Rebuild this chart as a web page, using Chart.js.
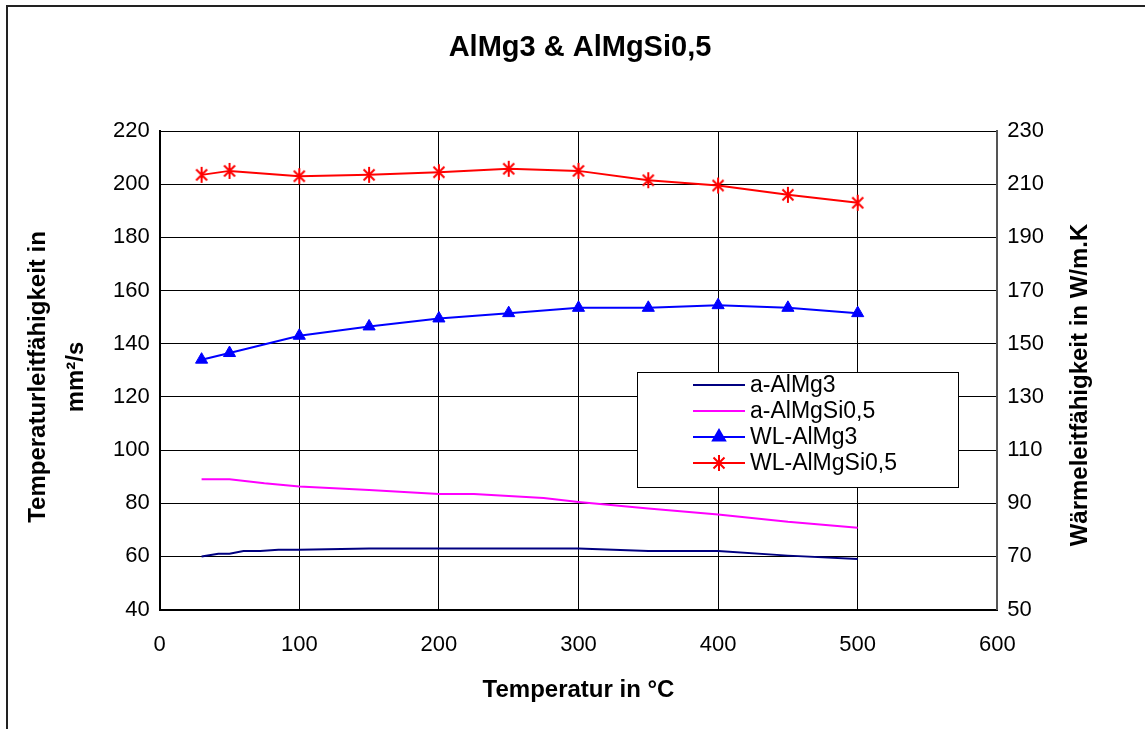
<!DOCTYPE html>
<html>
<head>
<meta charset="utf-8">
<script src="https://cdn.jsdelivr.net/npm/chart.js@4/dist/chart.umd.min.js"></script>
<style>
    html, body { margin: 0; padding: 0; background: #fff; overflow: hidden; }
    #frame { position: absolute; left: 6px; top: 5px; width: 1300px; height: 900px; border: 2px solid #222; }
    #wrap { position: absolute; left: 0; top: 0; width: 1145px; height: 729px; }
</style>
</head>
<body>
<div id="frame"></div>
<div id="wrap"><canvas id="alChart" width="1145" height="729"></canvas></div>
<script>
// Temperature points (°C) for each measured series
const tempAAlMg3 = [30, 42, 50, 60, 72, 85, 100, 150, 200, 250, 300, 350, 400, 450, 500]
const aAlMg3 = [60, 61, 61, 62, 62, 62.5, 62.5, 63, 63, 63, 63, 62, 62, 60.3, 59]

const tempAAlMgSi = [30, 50, 75, 100, 150, 200, 225, 275, 300, 350, 400, 450, 500]
const aAlMgSi = [89, 89, 87.5, 86.3, 85, 83.5, 83.5, 82, 80.5, 78, 75.8, 73, 70.8]

const tempWL = [30, 50, 100, 150, 200, 250, 300, 350, 400, 450, 500]
const wlAlMg3 = [144, 146.5, 153, 156.5, 159.5, 161.5, 163.5, 163.5, 164.5, 163.5, 161.5]
const wlAlMgSi = [213.5, 215, 213, 213.5, 214.5, 215.8, 215, 211.5, 209.5, 206, 203]

const chartTitle = 'AlMg3 & AlMgSi0,5'
const xTitle = 'Temperatur in °C'
const yLeftTitle = ['Temperaturleitfähigkeit in', 'mm²/s']
const yRightTitle = 'Wärmeleitfähigkeit in W/m.K'

const fontFamily = '"Liberation Sans", Arial, sans-serif'

function toPoints(xs, ys) {
    return xs.map((x, i) => ({ x: x, y: ys[i] }))
}

// Excel-like asterisk marker (X plus vertical bar)
function makeStar() {
    const c = document.createElement('canvas')
    c.width = 18
    c.height = 18
    const g = c.getContext('2d')
    g.strokeStyle = '#ff0000'
    g.lineWidth = 2
    g.beginPath()
    g.moveTo(9, 1); g.lineTo(9, 17)
    g.moveTo(3.5, 3.5); g.lineTo(14.5, 14.5)
    g.moveTo(14.5, 3.5); g.lineTo(3.5, 14.5)
    g.stroke()
    return c
}
const starMarker = makeStar()

// Draws title, axis titles and the legend box inside the plot
const decorPlugin = {
    id: 'decor',
    afterDraw: function(chart) {
        const ctx = chart.ctx
        const area = chart.chartArea
        ctx.save()
        ctx.fillStyle = '#000'
        ctx.textAlign = 'center'
        ctx.textBaseline = 'middle'

        ctx.font = 'bold 29px ' + fontFamily
        ctx.fillText(chartTitle, 580, 48)

        ctx.font = 'bold 24px ' + fontFamily
        ctx.fillText(xTitle, (area.left + area.right) / 2, 690)

        ctx.save()
        ctx.translate(38, 377)
        ctx.rotate(-Math.PI / 2)
        ctx.fillText(yLeftTitle[0], 0, 0)
        ctx.restore()
        ctx.save()
        ctx.translate(76, 377)
        ctx.rotate(-Math.PI / 2)
        ctx.fillText(yLeftTitle[1], 0, 0)
        ctx.restore()

        ctx.save()
        ctx.translate(1080, 385)
        ctx.rotate(-Math.PI / 2)
        ctx.fillText(yRightTitle, 0, 0)
        ctx.restore()

        // legend
        ctx.fillStyle = '#fff'
        ctx.fillRect(637, 372, 321, 115)
        ctx.strokeStyle = '#000'
        ctx.lineWidth = 1
        ctx.strokeRect(637.5, 372.5, 321, 115)
        ctx.font = '23px ' + fontFamily
        ctx.textAlign = 'left'
        chart.data.datasets.forEach((ds, i) => {
            const y = 385 + i * 26
            ctx.strokeStyle = ds.borderColor
            ctx.lineWidth = 2
            ctx.beginPath()
            ctx.moveTo(693, y)
            ctx.lineTo(745, y)
            ctx.stroke()
            if (ds.pointRadius > 0) {
                ctx.fillStyle = ds.backgroundColor
                Chart.helpers.drawPoint(ctx, {
                    pointStyle: ds.pointStyle,
                    radius: ds.pointRadius,
                    rotation: 0,
                    borderWidth: 1
                }, 719, y)
            }
            ctx.fillStyle = '#000'
            ctx.fillText(ds.label, 750, y + 1)
        })
        ctx.restore()
    }
}

const chartConfig = {
    type: 'line',
    data: {
        datasets: [{
            label: 'a-AlMg3',
            data: toPoints(tempAAlMg3, aAlMg3),
            borderColor: '#000080',
            backgroundColor: '#000080',
            borderWidth: 2,
            pointRadius: 0,
            yAxisID: 'y',
        }, {
            label: 'a-AlMgSi0,5',
            data: toPoints(tempAAlMgSi, aAlMgSi),
            borderColor: '#ff00ff',
            backgroundColor: '#ff00ff',
            borderWidth: 2,
            pointRadius: 0,
            yAxisID: 'y',
        }, {
            label: 'WL-AlMg3',
            data: toPoints(tempWL, wlAlMg3),
            borderColor: '#0000ff',
            backgroundColor: '#0000ff',
            borderWidth: 2,
            pointStyle: 'triangle',
            pointRadius: 7,
            pointBorderWidth: 1,
            yAxisID: 'y2',
        }, {
            label: 'WL-AlMgSi0,5',
            data: toPoints(tempWL, wlAlMgSi),
            borderColor: '#ff0000',
            backgroundColor: '#ff0000',
            borderWidth: 2,
            pointStyle: starMarker,
            pointRadius: 8,
            yAxisID: 'y2',
        }],
    },
    options: {
        responsive: false,
        animation: false,
        layout: {
            padding: { left: 103, right: 91, top: 131, bottom: 49 }
        },
        plugins: {
            legend: { display: false },
            title: { display: false },
            tooltip: { enabled: false },
        },
        scales: {
            x: {
                type: 'linear',
                min: 0,
                max: 600,
                ticks: { stepSize: 100, color: '#000', padding: 22, font: { family: fontFamily, size: 22 } },
                grid: { color: '#000', lineWidth: 1, drawTicks: false },
                border: { color: '#000', width: 2 },
            },
            y: {
                position: 'left',
                min: 40,
                max: 220,
                ticks: { stepSize: 20, color: '#000', padding: 10, font: { family: fontFamily, size: 22 } },
                grid: { color: '#000', lineWidth: 1, drawTicks: false },
                border: { color: '#000', width: 2 },
            },
            y2: {
                position: 'right',
                min: 50,
                max: 230,
                ticks: { stepSize: 20, color: '#000', padding: 10, font: { family: fontFamily, size: 22 } },
                grid: { drawOnChartArea: false, drawTicks: false },
                border: { color: '#555', width: 2 },
            },
        },
    },
    plugins: [decorPlugin],
}

const alChart = new Chart(document.getElementById('alChart'), chartConfig)
console.log('chart area', alChart.chartArea)
</script>
</body>
</html>
